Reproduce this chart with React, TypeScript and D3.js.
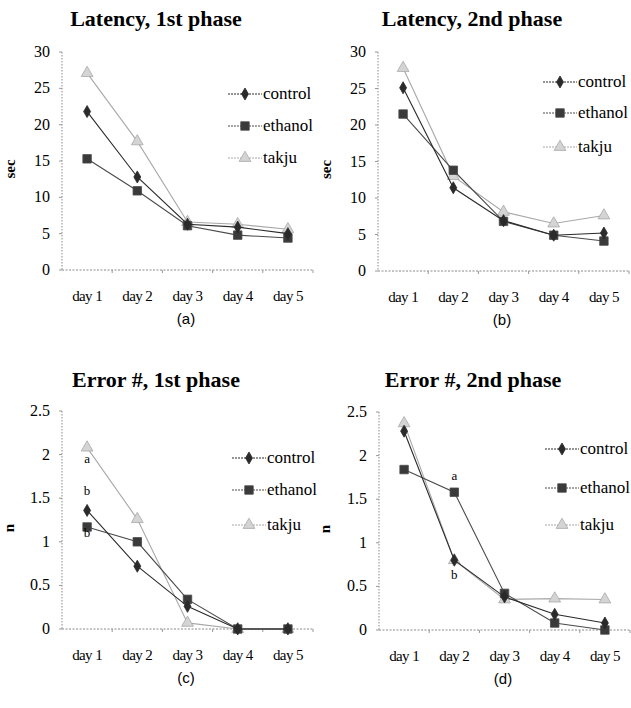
import React, { useEffect, useRef } from 'react';
import * as d3 from 'd3';

// categories
const days = ['day 1', 'day 2', 'day 3', 'day 4', 'day 5'];
const seriesNames = ['control', 'ethanol', 'takju'];

// (a) latency, 1st phase (sec)
const lat1Control = [21.8, 12.8, 6.3, 5.9, 5.0];
const lat1Ethanol = [15.3, 10.9, 6.1, 4.8, 4.4];
const lat1Takju = [27.1, 17.7, 6.6, 6.3, 5.6];

// (b) latency, 2nd phase (sec)
const lat2Control = [25.1, 11.4, 6.9, 4.9, 5.2];
const lat2Ethanol = [21.5, 13.8, 6.8, 4.9, 4.1];
const lat2Takju = [27.8, 13.0, 8.1, 6.5, 7.6];

// (c) error #, 1st phase (n)
const err1Control = [1.36, 0.72, 0.26, 0, 0];
const err1Ethanol = [1.17, 1.0, 0.34, 0, 0];
const err1Takju = [2.08, 1.26, 0.07, 0, 0];

// (d) error #, 2nd phase (n)
const err2Control = [2.28, 0.8, 0.38, 0.18, 0.08];
const err2Ethanol = [1.84, 1.58, 0.42, 0.08, 0];
const err2Takju = [2.37, 0.8, 0.35, 0.36, 0.35];

// y ticks
const latTicks = [0, 5, 10, 15, 20, 25, 30];
const errTicks = [0, 0.5, 1, 1.5, 2, 2.5];

// significance letters: [day, value they sit next to, letter]
const err1Letters: [string, number, string][] = [
  ['day 1', 1.95, 'a'],
  ['day 1', 1.58, 'b'],
  ['day 1', 1.1, 'b'],
];
const err2Letters: [string, number, string][] = [
  ['day 2', 1.77, 'a'],
  ['day 2', 0.63, 'b'],
];

const serif = '"Liberation Serif", "Times New Roman", serif';
const sans = '"Liberation Sans", Arial, sans-serif';

const styles = [
  { stroke: '#2a2a2a', fill: '#2a2a2a', symbol: d3.symbolDiamond, size: 42 },
  { stroke: '#4a4a4a', fill: '#3a3a3a', symbol: d3.symbolSquare, size: 72 },
  { stroke: '#a8a8a8', fill: '#d4d4d4', symbol: d3.symbolTriangle, size: 60 },
];

const panels = [
  {
    title: 'Latency, 1st phase', caption: '(a)', yLabel: 'sec',
    series: [lat1Control, lat1Ethanol, lat1Takju], ticks: latTicks,
    left: 62, top: 52, bottom: 270, titleY: 26, labelX: 15,
    legendX: 228, legendY: [94, 126, 158], letters: [] as [string, number, string][],
  },
  {
    title: 'Latency, 2nd phase', caption: '(b)', yLabel: 'sec',
    series: [lat2Control, lat2Ethanol, lat2Takju], ticks: latTicks,
    left: 378, top: 52, bottom: 271, titleY: 26, labelX: 331,
    legendX: 543, legendY: [82, 113, 147], letters: [] as [string, number, string][],
  },
  {
    title: 'Error #, 1st phase', caption: '(c)', yLabel: 'n',
    series: [err1Control, err1Ethanol, err1Takju], ticks: errTicks,
    left: 62, top: 411, bottom: 629, titleY: 387, labelX: 14,
    legendX: 232, legendY: [458, 490, 525], letters: err1Letters,
  },
  {
    title: 'Error #, 2nd phase', caption: '(d)', yLabel: 'n',
    series: [err2Control, err2Ethanol, err2Takju], ticks: errTicks,
    left: 379, top: 412, bottom: 630, titleY: 387, labelX: 330,
    legendX: 545, legendY: [449, 488, 525], letters: err2Letters,
  },
];

const App = () => {
  const ref = useRef<SVGSVGElement>(null);

  useEffect(() => {
    const svg = d3.select(ref.current);
    svg.selectAll('*').remove();

    panels.forEach((p) => {
      const g = svg.append('g');
      const plotW = 251;
      const x = d3.scalePoint<string>().domain(days).range([p.left, p.left + plotW]).padding(0.5);
      const y = d3.scaleLinear()
        .domain([0, p.ticks[p.ticks.length - 1]])
        .range([p.bottom, p.top]);

      // title
      g.append('text')
        .attr('x', p.left + 94)
        .attr('y', p.titleY)
        .attr('text-anchor', 'middle')
        .style('font-family', serif)
        .style('font-weight', 'bold')
        .style('font-size', '22px')
        .text(p.title);

      // y axis label
      g.append('text')
        .attr('transform', `translate(${p.labelX},${(p.top + p.bottom) / 2 + 8}) rotate(-90)`)
        .attr('text-anchor', 'middle')
        .style('font-family', serif)
        .style('font-weight', 'bold')
        .style('font-size', '15px')
        .text(p.yLabel);

      // axes as dotted lines
      g.append('line')
        .attr('x1', p.left).attr('x2', p.left)
        .attr('y1', p.top).attr('y2', p.bottom)
        .attr('stroke', '#888').attr('stroke-dasharray', '1.5,1.5');
      g.append('line')
        .attr('x1', p.left).attr('x2', p.left + plotW)
        .attr('y1', p.bottom).attr('y2', p.bottom)
        .attr('stroke', '#888').attr('stroke-dasharray', '2,1.5');

      // y ticks
      g.selectAll('.yt')
        .data(p.ticks)
        .enter()
        .append('line')
        .attr('x1', p.left - 3).attr('x2', p.left)
        .attr('y1', (d) => y(d)).attr('y2', (d) => y(d))
        .attr('stroke', '#999');
      g.selectAll('.yl')
        .data(p.ticks)
        .enter()
        .append('text')
        .attr('x', p.left - 12)
        .attr('y', (d) => y(d) + 5)
        .attr('text-anchor', 'end')
        .style('font-family', serif)
        .style('font-size', '16px')
        .text((d) => String(d));

      // x ticks between categories
      const step = x.step();
      g.selectAll('.xt')
        .data(days)
        .enter()
        .append('line')
        .attr('x1', (d, i) => p.left + step * (i + 1))
        .attr('x2', (d, i) => p.left + step * (i + 1))
        .attr('y1', p.bottom).attr('y2', p.bottom + 3)
        .attr('stroke', '#999');
      g.selectAll('.xl')
        .data(days)
        .enter()
        .append('text')
        .attr('x', (d) => x(d) as number)
        .attr('y', p.bottom + 31)
        .attr('text-anchor', 'middle')
        .style('font-family', serif)
        .style('font-size', '15px')
        .style('letter-spacing', '-0.6px')
        .text((d) => d);

      // caption
      g.append('text')
        .attr('x', p.left + 124)
        .attr('y', p.bottom + 54)
        .attr('text-anchor', 'middle')
        .style('font-family', sans)
        .style('font-size', '15px')
        .text(p.caption);

      // series lines (takju drawn first so darker series sit on top)
      const line = d3.line<number>()
        .x((d, i) => x(days[i]) as number)
        .y((d) => y(d));
      [2, 1, 0].forEach((si) => {
        const st = styles[si];
        const vals = p.series[si];
        g.append('path')
          .datum(vals)
          .attr('d', line)
          .attr('fill', 'none')
          .attr('stroke', st.stroke)
          .attr('stroke-width', 1.1);
        g.selectAll(`.m${si}`)
          .data(vals)
          .enter()
          .append('path')
          .attr('d', d3.symbol().type(st.symbol).size(st.size))
          .attr('transform', (d, i) => `translate(${x(days[i])},${y(d)})`)
          .attr('fill', st.fill)
          .attr('stroke', st.stroke)
          .attr('stroke-width', 0.8);
      });

      // letters
      g.selectAll('.lt')
        .data(p.letters)
        .enter()
        .append('text')
        .attr('x', (d) => x(d[0]) as number)
        .attr('y', (d) => y(d[1]) + 4)
        .attr('text-anchor', 'middle')
        .style('font-family', serif)
        .style('font-size', '13px')
        .text((d) => d[2]);

      // legend
      seriesNames.forEach((name, si) => {
        const st = styles[si];
        const ly = p.legendY[si];
        g.append('line')
          .attr('x1', p.legendX).attr('x2', p.legendX + 34)
          .attr('y1', ly).attr('y2', ly)
          .attr('stroke', st.stroke)
          .attr('stroke-dasharray', '2,1');
        g.append('path')
          .attr('d', d3.symbol().type(st.symbol).size(st.size)())
          .attr('transform', `translate(${p.legendX + 17},${ly})`)
          .attr('fill', st.fill)
          .attr('stroke', st.stroke)
          .attr('stroke-width', 0.8);
        g.append('text')
          .attr('x', p.legendX + 35)
          .attr('y', ly + 5)
          .style('font-family', serif)
          .style('font-size', '17px')
          .text(name);
      });
    });
  }, []);

  return (
    <svg
      ref={ref}
      width={631}
      height={708}
      style={{ position: 'absolute', left: 0, top: 0, background: '#fff' }}
    />
  );
};

export default App;
